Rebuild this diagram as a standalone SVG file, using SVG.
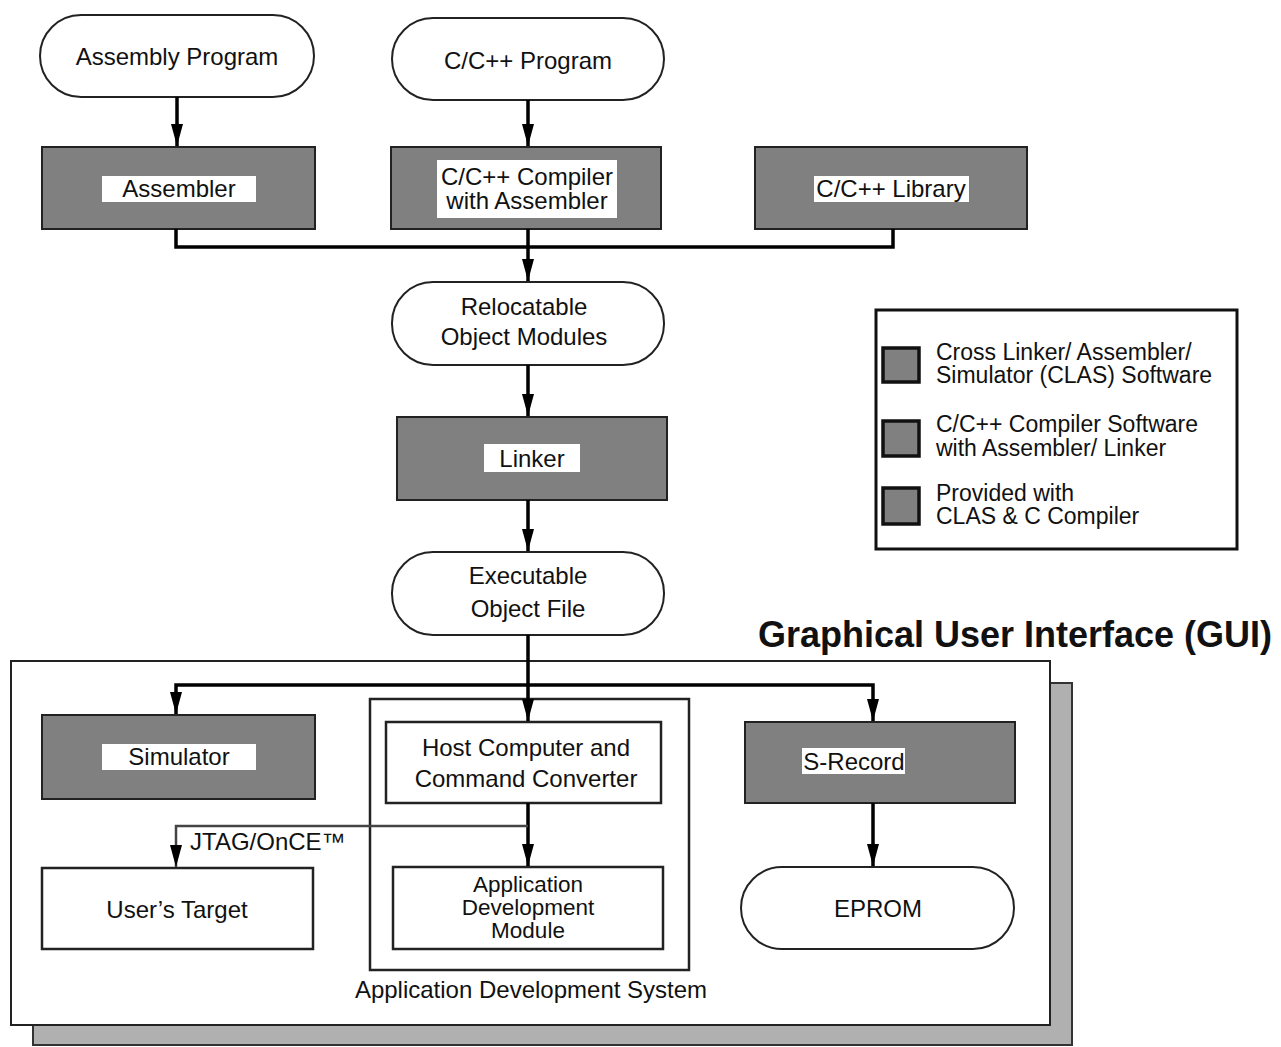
<svg xmlns="http://www.w3.org/2000/svg" width="1281" height="1047" viewBox="0 0 1281 1047">
<defs>
<marker id="arr" viewBox="0 0 22 12" refX="22" refY="6" markerWidth="22" markerHeight="12" markerUnits="userSpaceOnUse" orient="auto">
<path d="M0,0 L22,6 L0,12 Z" fill="#000"/>
</marker>
</defs>
<style>
text{font-family:"Liberation Sans",Arial,sans-serif;font-size:24px;fill:#111;text-anchor:middle}
.pill{fill:#fff;stroke:#222;stroke-width:2}
.dark{fill:#808080;stroke:#222;stroke-width:2}
.box{fill:#fff;stroke:#222;stroke-width:2.5}
.lab{fill:#fff;stroke:none}
.ln{fill:none;stroke:#000;stroke-width:3.5}
.thin{fill:none;stroke:#444;stroke-width:2.5}
.leg{text-anchor:start;font-size:23px}
.tight{font-size:22.5px}
.lsq{fill:#808080;stroke:#111;stroke-width:3.5}
</style>
<rect width="1281" height="1047" fill="#fff"/>

<g id="gui">
<rect x="33" y="683" width="1039" height="362" fill="#b0b0b0" stroke="#333" stroke-width="2"/>
<rect x="11" y="661" width="1039" height="364" fill="#fff" stroke="#222" stroke-width="2"/>
<text x="1015" y="647" style="font-size:36px;font-weight:bold">Graphical User Interface (GUI)</text>
</g>

<g id="ads">
<rect x="370" y="699" width="319" height="271" class="box"/>
<text x="531" y="998">Application Development System</text>
</g>

<g id="assembly-program">
<rect x="40" y="15" width="274" height="82" rx="41" class="pill"/>
<text x="177" y="65">Assembly Program</text>
</g>
<g id="cpp-program">
<rect x="392" y="18" width="272" height="82" rx="41" class="pill"/>
<text x="528" y="69">C/C++ Program</text>
</g>
<g id="assembler">
<rect x="42" y="147" width="273" height="82" class="dark"/>
<rect x="102" y="176" width="154" height="26" class="lab"/>
<text x="179" y="197">Assembler</text>
</g>
<g id="compiler">
<rect x="391" y="147" width="270" height="82" class="dark"/>
<rect x="437" y="160" width="180" height="58" class="lab"/>
<text x="527" y="185">C/C++ Compiler</text>
<text x="527" y="209">with Assembler</text>
</g>
<g id="library">
<rect x="755" y="147" width="272" height="82" class="dark"/>
<rect x="814" y="176" width="155" height="26" class="lab"/>
<text x="891" y="197">C/C++ Library</text>
</g>
<g id="relocatable">
<rect x="392" y="282" width="272" height="83" rx="41" class="pill"/>
<text x="524" y="315">Relocatable</text>
<text x="524" y="345">Object Modules</text>
</g>
<g id="linker">
<rect x="397" y="417" width="270" height="83" class="dark"/>
<rect x="484" y="444" width="96" height="28" class="lab"/>
<text x="532" y="467">Linker</text>
</g>
<g id="executable">
<rect x="392" y="552" width="272" height="83" rx="41" class="pill"/>
<text x="528" y="584">Executable</text>
<text x="528" y="617">Object File</text>
</g>
<g id="simulator">
<rect x="42" y="715" width="273" height="84" class="dark"/>
<rect x="102" y="744" width="154" height="26" class="lab"/>
<text x="179" y="765">Simulator</text>
</g>
<g id="host">
<rect x="386" y="722" width="275" height="81" class="box"/>
<text x="526" y="756">Host Computer and</text>
<text x="526" y="787">Command Converter</text>
</g>
<g id="adm">
<rect x="393" y="867" width="270" height="82" class="box"/>
<text class="tight" x="528" y="892">Application</text>
<text class="tight" x="528" y="915">Development</text>
<text class="tight" x="528" y="938">Module</text>
</g>
<g id="users-target">
<rect x="42" y="868" width="271" height="81" class="box"/>
<text x="177" y="918">User’s Target</text>
</g>
<g id="srecord">
<rect x="745" y="722" width="270" height="81" class="dark"/>
<rect x="802" y="748" width="103" height="26" class="lab"/>
<text x="854" y="770">S-Record</text>
</g>
<g id="eprom">
<rect x="741" y="867" width="273" height="82" rx="41" class="pill"/>
<text x="878" y="917">EPROM</text>
</g>

<g id="legend">
<rect x="876" y="310" width="361" height="239" fill="#fff" stroke="#111" stroke-width="3"/>
<rect x="883" y="348" width="36" height="34" class="lsq"/>
<rect x="883" y="421" width="36" height="35" class="lsq"/>
<rect x="883" y="488" width="36" height="36" class="lsq"/>
<text class="leg" x="936" y="360">Cross Linker/ Assembler/</text>
<text class="leg" x="936" y="383">Simulator (CLAS) Software</text>
<text class="leg" x="936" y="432">C/C++ Compiler Software</text>
<text class="leg" x="936" y="456">with Assembler/ Linker</text>
<text class="leg" x="936" y="501">Provided with</text>
<text class="leg" x="936" y="524">CLAS &amp; C Compiler</text>
</g>

<g id="connectors">
<path class="ln" d="M177,97 V146" marker-end="url(#arr)"/>
<path class="ln" d="M528,100 V146" marker-end="url(#arr)"/>
<path class="ln" d="M176,229 V247 H893 V229"/>
<path class="ln" d="M528,229 V281" marker-end="url(#arr)"/>
<path class="ln" d="M528,365 V416" marker-end="url(#arr)"/>
<path class="ln" d="M528,500 V551" marker-end="url(#arr)"/>
<path class="ln" d="M528,635 V721" marker-end="url(#arr)"/>
<path class="ln" d="M528,685 H176 V714" marker-end="url(#arr)"/>
<path class="ln" d="M528,685 H873 V721" marker-end="url(#arr)"/>
<path class="ln" d="M528,803 V866" marker-end="url(#arr)"/>
<path class="thin" d="M528,826 H176 V867" marker-end="url(#arr)"/>
<text class="leg" style="font-size:24px" x="190" y="850">JTAG/OnCE™</text>
<path class="ln" d="M873,803 V866" marker-end="url(#arr)"/>
</g>
</svg>
